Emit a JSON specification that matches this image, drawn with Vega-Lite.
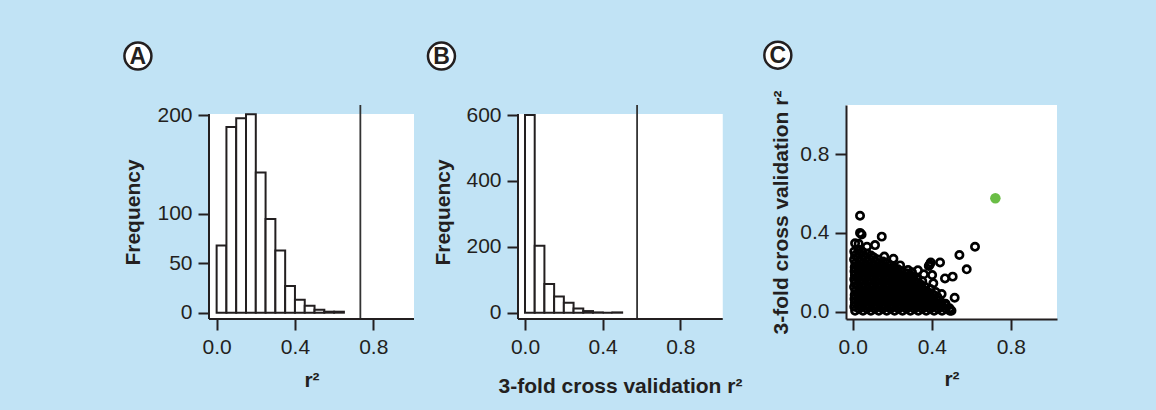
{
  "$schema": "https://vega.github.io/schema/vega-lite/v6.json",
  "background": "#c1e3f5",
  "padding": {"left": 119, "top": 36, "right": 101, "bottom": 17},
  "bounds": "flush",
  "spacing": 104,
  "config": {
    "view": {"stroke": null},
    "axis": {
      "grid": false, "domain": false,
      "tickColor": "#231f20", "tickWidth": 2, "tickSize": 11,
      "labelFont": "Liberation Sans", "labelFontSize": 21, "labelColor": "#231f20", "labelPadding": 6,
      "titleFont": "Liberation Sans", "titleFontSize": 21, "titleFontWeight": "bold", "titleColor": "#231f20"
    }
  },
  "datasets": {
    "one": [{}],
    "histA": [
      {"lo": 0.0, "hi": 0.05, "n": 68}, {"lo": 0.05, "hi": 0.1, "n": 188}, {"lo": 0.1, "hi": 0.15, "n": 197},
      {"lo": 0.15, "hi": 0.2, "n": 201}, {"lo": 0.2, "hi": 0.25, "n": 142}, {"lo": 0.25, "hi": 0.3, "n": 95},
      {"lo": 0.3, "hi": 0.35, "n": 63}, {"lo": 0.35, "hi": 0.4, "n": 27}, {"lo": 0.4, "hi": 0.45, "n": 13},
      {"lo": 0.45, "hi": 0.5, "n": 7}, {"lo": 0.5, "hi": 0.55, "n": 3}, {"lo": 0.55, "hi": 0.6, "n": 1},
      {"lo": 0.6, "hi": 0.65, "n": 1}
    ],
    "histB": [
      {"lo": 0.0, "hi": 0.05, "n": 600}, {"lo": 0.05, "hi": 0.1, "n": 203}, {"lo": 0.1, "hi": 0.15, "n": 87},
      {"lo": 0.15, "hi": 0.2, "n": 49}, {"lo": 0.2, "hi": 0.25, "n": 30}, {"lo": 0.25, "hi": 0.3, "n": 13},
      {"lo": 0.3, "hi": 0.35, "n": 5}, {"lo": 0.35, "hi": 0.4, "n": 1}, {"lo": 0.4, "hi": 0.45, "n": 0},
      {"lo": 0.45, "hi": 0.5, "n": 1}
    ],
    "best": [{"x": 0.722, "y": 0.576}],
    "scatter": [
      {"x":0.012,"y":0.005},{"x":0.008,"y":0.025},{"x":0.011,"y":0.045},{"x":0.009,"y":0.065},{"x":0.010,"y":0.085},{"x":0.013,"y":0.105},{"x":0.007,"y":0.125},{"x":0.012,"y":0.145},{"x":0.008,"y":0.165},{"x":0.011,"y":0.185},{"x":0.009,"y":0.205},{"x":0.010,"y":0.225},{"x":0.013,"y":0.245},{"x":0.007,"y":0.265},{"x":0.012,"y":0.285},{"x":0.008,"y":0.305},
      {"x":0.032,"y":0.015},{"x":0.028,"y":0.035},{"x":0.031,"y":0.055},{"x":0.029,"y":0.075},{"x":0.030,"y":0.095},{"x":0.033,"y":0.115},{"x":0.027,"y":0.135},{"x":0.032,"y":0.155},{"x":0.028,"y":0.175},{"x":0.031,"y":0.195},{"x":0.029,"y":0.215},{"x":0.030,"y":0.235},{"x":0.033,"y":0.255},{"x":0.027,"y":0.275},{"x":0.032,"y":0.295},{"x":0.028,"y":0.315},
      {"x":0.052,"y":0.005},{"x":0.048,"y":0.025},{"x":0.051,"y":0.045},{"x":0.049,"y":0.065},{"x":0.050,"y":0.085},{"x":0.053,"y":0.105},{"x":0.047,"y":0.125},{"x":0.052,"y":0.145},{"x":0.048,"y":0.165},{"x":0.051,"y":0.185},{"x":0.049,"y":0.205},{"x":0.050,"y":0.225},{"x":0.053,"y":0.245},{"x":0.047,"y":0.265},{"x":0.052,"y":0.285},{"x":0.048,"y":0.305},
      {"x":0.072,"y":0.015},{"x":0.068,"y":0.035},{"x":0.071,"y":0.055},{"x":0.069,"y":0.075},{"x":0.070,"y":0.095},{"x":0.073,"y":0.115},{"x":0.067,"y":0.135},{"x":0.072,"y":0.155},{"x":0.068,"y":0.175},{"x":0.071,"y":0.195},{"x":0.069,"y":0.215},{"x":0.070,"y":0.235},{"x":0.073,"y":0.255},{"x":0.067,"y":0.275},{"x":0.072,"y":0.295},
      {"x":0.092,"y":0.005},{"x":0.088,"y":0.025},{"x":0.091,"y":0.045},{"x":0.089,"y":0.065},{"x":0.090,"y":0.085},{"x":0.093,"y":0.105},{"x":0.087,"y":0.125},{"x":0.092,"y":0.145},{"x":0.088,"y":0.165},{"x":0.091,"y":0.185},{"x":0.089,"y":0.205},{"x":0.090,"y":0.225},{"x":0.093,"y":0.245},{"x":0.087,"y":0.265},{"x":0.092,"y":0.285},
      {"x":0.112,"y":0.015},{"x":0.108,"y":0.035},{"x":0.111,"y":0.055},{"x":0.109,"y":0.075},{"x":0.110,"y":0.095},{"x":0.113,"y":0.115},{"x":0.107,"y":0.135},{"x":0.112,"y":0.155},{"x":0.108,"y":0.175},{"x":0.111,"y":0.195},{"x":0.109,"y":0.215},{"x":0.110,"y":0.235},{"x":0.113,"y":0.255},{"x":0.107,"y":0.275},
      {"x":0.132,"y":0.005},{"x":0.128,"y":0.025},{"x":0.131,"y":0.045},{"x":0.129,"y":0.065},{"x":0.130,"y":0.085},{"x":0.133,"y":0.105},{"x":0.127,"y":0.125},{"x":0.132,"y":0.145},{"x":0.128,"y":0.165},{"x":0.131,"y":0.185},{"x":0.129,"y":0.205},{"x":0.130,"y":0.225},{"x":0.133,"y":0.245},{"x":0.127,"y":0.265},
      {"x":0.152,"y":0.015},{"x":0.148,"y":0.035},{"x":0.151,"y":0.055},{"x":0.149,"y":0.075},{"x":0.150,"y":0.095},{"x":0.153,"y":0.115},{"x":0.147,"y":0.135},{"x":0.152,"y":0.155},{"x":0.148,"y":0.175},{"x":0.151,"y":0.195},{"x":0.149,"y":0.215},{"x":0.150,"y":0.235},{"x":0.153,"y":0.255},
      {"x":0.172,"y":0.005},{"x":0.168,"y":0.025},{"x":0.171,"y":0.045},{"x":0.169,"y":0.065},{"x":0.170,"y":0.085},{"x":0.173,"y":0.105},{"x":0.167,"y":0.125},{"x":0.172,"y":0.145},{"x":0.168,"y":0.165},{"x":0.171,"y":0.185},{"x":0.169,"y":0.205},{"x":0.170,"y":0.225},{"x":0.173,"y":0.245},
      {"x":0.192,"y":0.015},{"x":0.188,"y":0.035},{"x":0.191,"y":0.055},{"x":0.189,"y":0.075},{"x":0.190,"y":0.095},{"x":0.193,"y":0.115},{"x":0.187,"y":0.135},{"x":0.192,"y":0.155},{"x":0.188,"y":0.175},{"x":0.191,"y":0.195},{"x":0.189,"y":0.215},{"x":0.190,"y":0.235},
      {"x":0.212,"y":0.005},{"x":0.208,"y":0.025},{"x":0.211,"y":0.045},{"x":0.209,"y":0.065},{"x":0.210,"y":0.085},{"x":0.213,"y":0.105},{"x":0.207,"y":0.125},{"x":0.212,"y":0.145},{"x":0.208,"y":0.165},{"x":0.211,"y":0.185},{"x":0.209,"y":0.205},{"x":0.210,"y":0.225},
      {"x":0.232,"y":0.015},{"x":0.228,"y":0.035},{"x":0.231,"y":0.055},{"x":0.229,"y":0.075},{"x":0.230,"y":0.095},{"x":0.233,"y":0.115},{"x":0.227,"y":0.135},{"x":0.232,"y":0.155},{"x":0.228,"y":0.175},{"x":0.231,"y":0.195},{"x":0.229,"y":0.215},
      {"x":0.252,"y":0.005},{"x":0.248,"y":0.025},{"x":0.251,"y":0.045},{"x":0.249,"y":0.065},{"x":0.250,"y":0.085},{"x":0.253,"y":0.105},{"x":0.247,"y":0.125},{"x":0.252,"y":0.145},{"x":0.248,"y":0.165},{"x":0.251,"y":0.185},{"x":0.249,"y":0.205},
      {"x":0.272,"y":0.015},{"x":0.268,"y":0.035},{"x":0.271,"y":0.055},{"x":0.269,"y":0.075},{"x":0.270,"y":0.095},{"x":0.273,"y":0.115},{"x":0.267,"y":0.135},{"x":0.272,"y":0.155},{"x":0.268,"y":0.175},{"x":0.271,"y":0.195},
      {"x":0.292,"y":0.005},{"x":0.288,"y":0.025},{"x":0.291,"y":0.045},{"x":0.289,"y":0.065},{"x":0.290,"y":0.085},{"x":0.293,"y":0.105},{"x":0.287,"y":0.125},{"x":0.292,"y":0.145},{"x":0.288,"y":0.165},{"x":0.291,"y":0.185},
      {"x":0.312,"y":0.015},{"x":0.308,"y":0.035},{"x":0.311,"y":0.055},{"x":0.309,"y":0.075},{"x":0.310,"y":0.095},{"x":0.313,"y":0.115},{"x":0.307,"y":0.135},{"x":0.312,"y":0.155},{"x":0.308,"y":0.175},
      {"x":0.332,"y":0.005},{"x":0.328,"y":0.025},{"x":0.331,"y":0.045},{"x":0.329,"y":0.065},{"x":0.330,"y":0.085},{"x":0.333,"y":0.105},{"x":0.327,"y":0.125},{"x":0.332,"y":0.145},{"x":0.328,"y":0.165},
      {"x":0.352,"y":0.015},{"x":0.348,"y":0.035},{"x":0.351,"y":0.055},{"x":0.349,"y":0.075},{"x":0.350,"y":0.095},{"x":0.353,"y":0.115},{"x":0.347,"y":0.135},{"x":0.352,"y":0.155},
      {"x":0.372,"y":0.005},{"x":0.368,"y":0.025},{"x":0.371,"y":0.045},{"x":0.369,"y":0.065},{"x":0.370,"y":0.085},{"x":0.373,"y":0.105},{"x":0.367,"y":0.125},
      {"x":0.392,"y":0.015},{"x":0.388,"y":0.035},{"x":0.391,"y":0.055},{"x":0.389,"y":0.075},{"x":0.390,"y":0.095},{"x":0.393,"y":0.115},
      {"x":0.412,"y":0.005},{"x":0.408,"y":0.025},{"x":0.411,"y":0.045},{"x":0.409,"y":0.065},{"x":0.410,"y":0.085},
      {"x":0.432,"y":0.015},{"x":0.428,"y":0.035},{"x":0.431,"y":0.055},{"x":0.429,"y":0.075},
      {"x":0.452,"y":0.005},{"x":0.448,"y":0.025},{"x":0.451,"y":0.045},
      {"x":0.472,"y":0.015},{"x":0.468,"y":0.035},
      {"x":0.492,"y":0.005},
      {"x":0.037,"y":0.487},{"x":0.037,"y":0.40},{"x":0.045,"y":0.392},{"x":0.147,"y":0.381},{"x":0.619,"y":0.33},{"x":0.54,"y":0.288},{"x":0.577,"y":0.215},{"x":0.506,"y":0.178},{"x":0.467,"y":0.169},{"x":0.516,"y":0.071},{"x":0.442,"y":0.25},{"x":0.395,"y":0.25},{"x":0.39,"y":0.24},{"x":0.385,"y":0.232},{"x":0.206,"y":0.269},{"x":0.28,"y":0.212},{"x":0.33,"y":0.21},{"x":0.402,"y":0.186},{"x":0.408,"y":0.144},{"x":0.425,"y":0.06},{"x":0.49,"y":0.017},{"x":0.113,"y":0.338},{"x":0.012,"y":0.347},{"x":0.03,"y":0.345},{"x":0.072,"y":0.33},{"x":0.16,"y":0.28},{"x":0.24,"y":0.235},{"x":0.42,"y":0.10},{"x":0.45,"y":0.09},{"x":0.47,"y":0.04},{"x":0.50,"y":0.005},{"x":0.36,"y":0.19},{"x":0.3,"y":0.2}
    ]
  },
  "hconcat": [
    {
      "width": 205, "height": 214,
      "layer": [
        {
          "data": {"name": "one"},
          "mark": {"type": "rect", "color": "white"},
          "encoding": {
            "x": {"datum": -0.039, "type": "quantitative", "scale": {"domain": [-0.039, 1.008], "nice": false, "zero": false}},
            "x2": {"datum": 1.008},
            "y": {"datum": -6.4, "type": "quantitative", "scale": {"domain": [-6.4, 210.4], "nice": false, "zero": false}},
            "y2": {"datum": 201.2}
          }
        },
        {
          "data": {"name": "histA"},
          "mark": {"type": "rect", "fill": "white", "stroke": "#231f20", "strokeWidth": 2},
          "encoding": {
            "x": {"field": "lo", "type": "quantitative", "scale": {"domain": [-0.039, 1.008], "nice": false, "zero": false},
                  "axis": {"values": [0, 0.4, 0.8], "format": ".1f", "title": "r²", "titlePadding": 12}},
            "x2": {"field": "hi"},
            "y": {"field": "n", "type": "quantitative", "scale": {"domain": [-6.4, 210.4], "nice": false, "zero": false},
                  "axis": {"values": [0, 50, 100, 200], "title": "Frequency", "titlePadding": 13}},
            "y2": {"datum": 0}
          }
        },
        {
          "data": {"name": "one"},
          "mark": {"type": "rule", "color": "#333333", "strokeWidth": 1.8},
          "encoding": {
            "x": {"datum": 0.734, "type": "quantitative"},
            "y": {"datum": -6.4, "type": "quantitative"},
            "y2": {"datum": 210.4}
          }
        },
        {
          "data": {"name": "one"},
          "mark": {"type": "rule", "color": "#231f20", "strokeWidth": 2},
          "encoding": {
            "x": {"datum": -0.039, "type": "quantitative"},
            "y": {"datum": -6.4, "type": "quantitative"},
            "y2": {"datum": 201.2}
          }
        },
        {
          "data": {"name": "one"},
          "mark": {"type": "rule", "color": "#231f20", "strokeWidth": 2},
          "encoding": {
            "x": {"datum": -0.039, "type": "quantitative"},
            "x2": {"datum": 1.008},
            "y": {"datum": -6.4, "type": "quantitative"}
          }
        },
        {
          "data": {"name": "one"},
          "mark": {"type": "point", "shape": "circle", "filled": true, "fill": "white", "stroke": "#231f20", "strokeWidth": 2.5, "size": 729, "opacity": 1, "clip": false},
          "encoding": {
            "x": {"datum": -0.402, "type": "quantitative"},
            "y": {"datum": 260, "type": "quantitative"}
          }
        },
        {
          "data": {"name": "one"},
          "mark": {"type": "text", "text": "A", "font": "Liberation Sans", "fontSize": 23, "fontWeight": "bold", "color": "#231f20", "align": "center", "baseline": "middle", "dy": 1, "clip": false},
          "encoding": {
            "x": {"datum": -0.402, "type": "quantitative"},
            "y": {"datum": 260, "type": "quantitative"}
          }
        }
      ]
    },
    {
      "width": 224, "height": 214,
      "layer": [
        {
          "data": {"name": "one"},
          "mark": {"type": "rect", "color": "white"},
          "encoding": {
            "x": {"datum": -0.036, "type": "quantitative", "scale": {"domain": [-0.036, 1.117], "nice": false, "zero": false}},
            "x2": {"datum": 1.018},
            "y": {"datum": -19.1, "type": "quantitative", "scale": {"domain": [-19.1, 630.6], "nice": false, "zero": false}},
            "y2": {"datum": 603}
          }
        },
        {
          "data": {"name": "histB"},
          "mark": {"type": "rect", "fill": "white", "stroke": "#231f20", "strokeWidth": 2},
          "encoding": {
            "x": {"field": "lo", "type": "quantitative", "scale": {"domain": [-0.036, 1.117], "nice": false, "zero": false},
                  "axis": {"values": [0, 0.4, 0.8], "format": ".1f", "title": "3-fold cross validation r²", "titlePadding": 18, "titleX": 102}},
            "x2": {"field": "hi"},
            "y": {"field": "n", "type": "quantitative", "scale": {"domain": [-19.1, 630.6], "nice": false, "zero": false},
                  "axis": {"values": [0, 200, 400, 600], "title": "Frequency", "titlePadding": 12}},
            "y2": {"datum": 0}
          }
        },
        {
          "data": {"name": "one"},
          "mark": {"type": "rule", "color": "#333333", "strokeWidth": 1.8},
          "encoding": {
            "x": {"datum": 0.577, "type": "quantitative"},
            "y": {"datum": -19.1, "type": "quantitative"},
            "y2": {"datum": 630.6}
          }
        },
        {
          "data": {"name": "one"},
          "mark": {"type": "rule", "color": "#231f20", "strokeWidth": 2},
          "encoding": {
            "x": {"datum": -0.036, "type": "quantitative"},
            "y": {"datum": -19.1, "type": "quantitative"},
            "y2": {"datum": 603}
          }
        },
        {
          "data": {"name": "one"},
          "mark": {"type": "rule", "color": "#231f20", "strokeWidth": 2},
          "encoding": {
            "x": {"datum": -0.036, "type": "quantitative"},
            "x2": {"datum": 1.018},
            "y": {"datum": -19.1, "type": "quantitative"}
          }
        },
        {
          "data": {"name": "one"},
          "mark": {"type": "point", "shape": "circle", "filled": true, "fill": "white", "stroke": "#231f20", "strokeWidth": 2.5, "size": 729, "opacity": 1, "clip": false},
          "encoding": {
            "x": {"datum": -0.43, "type": "quantitative"},
            "y": {"datum": 779, "type": "quantitative"}
          }
        },
        {
          "data": {"name": "one"},
          "mark": {"type": "text", "text": "B", "font": "Liberation Sans", "fontSize": 23, "fontWeight": "bold", "color": "#231f20", "align": "center", "baseline": "middle", "dy": 1, "clip": false},
          "encoding": {
            "x": {"datum": -0.43, "type": "quantitative"},
            "y": {"datum": 779, "type": "quantitative"}
          }
        }
      ]
    },
    {
      "width": 211, "height": 214,
      "view": {"fill": "white", "stroke": null},
      "layer": [
        {
          "data": {"name": "scatter"},
          "mark": {"type": "point", "shape": "circle", "filled": false, "stroke": "#000000", "strokeWidth": 2.7, "size": 53, "opacity": 1},
          "encoding": {
            "x": {"field": "x", "type": "quantitative", "scale": {"domain": [-0.034, 1.034], "nice": false, "zero": false},
                  "axis": {"values": [0, 0.4, 0.8], "format": ".1f", "title": "r²", "titlePadding": 11, "domain": true, "domainColor": "#231f20", "domainWidth": 2}},
            "y": {"field": "y", "type": "quantitative", "scale": {"domain": [-0.037, 1.049], "nice": false, "zero": false},
                  "axis": {"values": [0, 0.4, 0.8], "format": ".1f", "title": "3-fold cross validation r²", "titlePadding": 8, "domain": true, "domainColor": "#231f20", "domainWidth": 2}}
          }
        },
        {
          "data": {"name": "best"},
          "mark": {"type": "point", "shape": "circle", "filled": true, "color": "#6abd45", "size": 110, "opacity": 1},
          "encoding": {
            "x": {"field": "x", "type": "quantitative"},
            "y": {"field": "y", "type": "quantitative"}
          }
        },
        {
          "data": {"name": "one"},
          "mark": {"type": "point", "shape": "circle", "filled": true, "fill": "white", "stroke": "#231f20", "strokeWidth": 2.5, "size": 729, "opacity": 1, "clip": false},
          "encoding": {
            "x": {"datum": -0.379, "type": "quantitative"},
            "y": {"datum": 1.302, "type": "quantitative"}
          }
        },
        {
          "data": {"name": "one"},
          "mark": {"type": "text", "text": "C", "font": "Liberation Sans", "fontSize": 23, "fontWeight": "bold", "color": "#231f20", "align": "center", "baseline": "middle", "dy": 1, "clip": false},
          "encoding": {
            "x": {"datum": -0.379, "type": "quantitative"},
            "y": {"datum": 1.302, "type": "quantitative"}
          }
        }
      ]
    }
  ]
}
